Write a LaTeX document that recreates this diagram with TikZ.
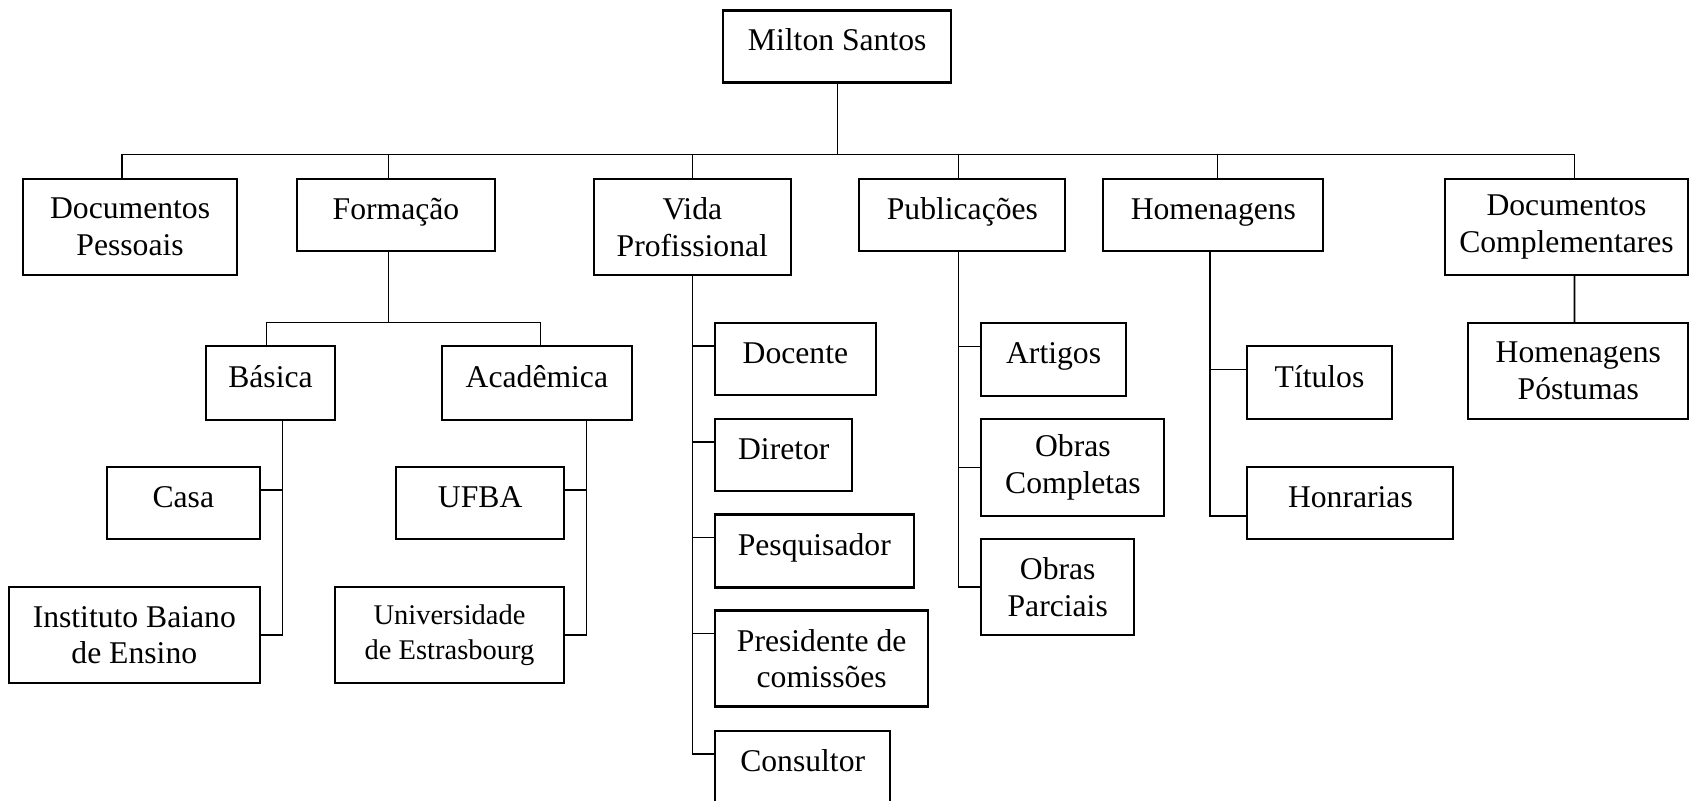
\documentclass[tikz,border=0pt]{standalone}
\usepackage{fontspec}
\setmainfont{Liberation Serif}
\usepackage{tikz}
\usetikzlibrary{calc}

\begin{document}
\begin{tikzpicture}[x=0.01cm,y=-0.01cm,
  bx/.style={draw,line width=0.6pt,align=center,inner sep=0pt,font=\fontsize{9}{10.4}\selectfont},
  one/.style={text height=0.22cm,text depth=0.13cm},
  sz/.style 2 args={minimum width=#1*0.01cm,minimum height=#2*0.01cm},
  ln/.style={line width=0.45pt}]
 \useasboundingbox (0,0) rectangle (1689,801);
 \node[bx,one,sz={228}{72}] (MS) at (837.2,46.5) {Milton Santos};
 \node[bx,sz={214}{96}] (DP) at (130.1,226.9) {Documentos\\Pessoais};
 \node[bx,one,sz={198}{72}] (FO) at (396,214.9) {Formação};
 \node[bx,sz={197}{96}] (VP) at (692.3,226.9) {Vida\\Profissional};
 \node[bx,one,sz={206}{72}] (PU) at (962.4,214.9) {Publicações};
 \node[bx,one,sz={220}{72}] (HO) at (1213.4,214.9) {Homenagens};
 \node[bx,sz={243}{96}] (DC) at (1566.5,226.9) {Documentos\\Complementares};
 \node[bx,one,sz={129}{74}] (BA) at (270.5,383.2) {Básica};
 \node[bx,one,sz={190}{74}] (AC) at (536.9,383.2) {Acadêmica};
 \node[bx,one,sz={153}{72}] (CA) at (183.3,502.9) {Casa};
 \node[bx,sz={251}{96}] (IB) at (134.3,635.2) {Instituto Baiano\\de Ensino};
 \node[bx,one,sz={168}{72}] (UF) at (480.2,502.9) {UFBA};
 \node[bx,sz={229}{96},font=\fontsize{8.1}{10.1}\selectfont] (UE) at (449.5,635.2) {Universidade\\de Estrasbourg};
 \node[bx,one,sz={161}{72}] (DO) at (795.4,359) {Docente};
 \node[bx,one,sz={137}{72}] (DI) at (783.8,454.9) {Diretor};
 \node[bx,one,sz={199}{73}] (PQ) at (814.3,551) {Pesquisador};
 \node[bx,sz={213}{96}] (PR) at (821.7,658.5) {Presidente de\\comissões};
 \node[bx,one,sz={175}{72}] (CO) at (802.7,767) {Consultor};
 \node[bx,one,sz={145}{73}] (AR) at (1053.6,359.4) {Artigos};
 \node[bx,sz={183}{97}] (OC) at (1072.9,467.4) {Obras\\Completas};
 \node[bx,sz={153}{96}] (OP) at (1057.7,587) {Obras\\Parciais};
 \node[bx,one,sz={145}{73}] (TI) at (1319.5,382.8) {Títulos};
 \node[bx,one,sz={206}{72}] (HN) at (1350.4,503) {Honrarias};
 \node[bx,sz={220}{96}] (HP) at (1578.3,370.9) {Homenagens\\Póstumas};
 \coordinate (mj) at (837.5,154.7);
 \coordinate (fj) at (388.7,322.7);
 \draw[ln] (mj |- MS.south) -- (mj);
 \foreach \n/\s in {DP/-0.081,FO/-0.073,VP/0,PU/-0.038,HO/0.04,DC/0.08}
  \draw[ln] (mj) -| ([xshift=\s cm]\n.north);
 \draw[ln] (fj |- FO.south) -- (fj);
 \draw[ln] ([xshift=-0.038cm]BA.north) |- (fj) -| ([xshift=0.036cm]AC.north);
 \draw[ln] ([xshift=0.118cm]BA.south) |- ([yshift=0.126cm]CA.east);
 \draw[ln] ([xshift=0.118cm]BA.south) |- (IB.east);
 \draw[ln] ([xshift=0.496cm]AC.south) |- ([yshift=0.126cm]UF.east);
 \draw[ln] ([xshift=0.496cm]AC.south) |- (UE.east);
 \foreach \n in {DO,DI,PQ,PR,CO}
  \draw[ln] (VP.south) |- ([yshift=-0.24cm]\n.north west);
 \draw[ln] ([xshift=-0.038cm]PU.south) |- ([yshift=-0.245cm]AR.north west);
 \draw[ln] ([xshift=-0.038cm]PU.south) |- (OC.west);
 \draw[ln] ([xshift=-0.038cm]PU.south) |- (OP.west);
 \draw[ln] ([xshift=-0.036cm]HO.south) |- ([yshift=-0.244cm]TI.north west);
 \draw[ln] ([xshift=-0.036cm]HO.south) |- ([yshift=0.243cm]HN.south west);
 \draw[ln] ([xshift=0.08cm]DC.south) -- ([xshift=-0.038cm]HP.north);
\end{tikzpicture}
\end{document}
